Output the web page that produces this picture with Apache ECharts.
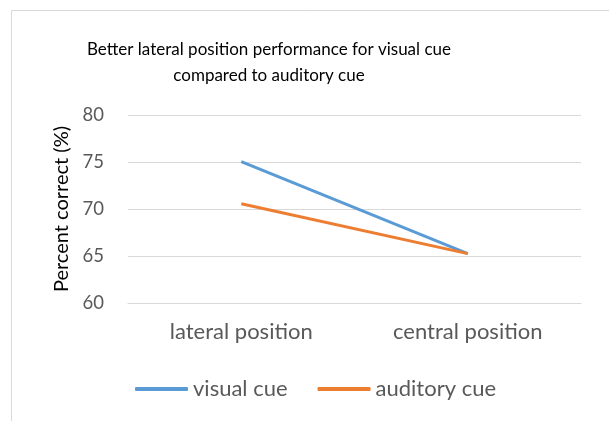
<!DOCTYPE html>
<html><head><meta charset="utf-8">
<script src="https://cdn.jsdelivr.net/npm/echarts@6/dist/echarts.min.js"></script>
<style>html,body{margin:0;padding:0;background:#fff}#c{width:609px;height:421px}</style>
</head><body><div id="c"></div>
<script>
var categories = ['lateral position', 'central position'];
var visualCue = [75.05, 65.25];
var auditoryCue = [70.55, 65.25];
var yTicks = {min: 60, max: 80, interval: 5};
var titleLines = ['Better lateral position performance for visual cue', 'compared to auditory cue'];
var FONT = 'Lato';
var chart = echarts.init(document.getElementById('c'));
chart.setOption({
  animation: false,
  graphic: [
    {type: 'rect', shape: {x: 11.5, y: 10.5, width: 700, height: 500}, style: {fill: 'none', stroke: '#D9D9D9', lineWidth: 1}, silent: true},
    {type: 'text', x: 269, y: 37, style: {text: titleLines.join('\n'), fontFamily: FONT, fontSize: 17, fill: '#000', align: 'center', lineHeight: 26}}
  ],
  grid: {left: 128, right: 28, top: 115, bottom: 118},
  legend: {
    bottom: 21, left: 135, padding: 0, itemWidth: 53, itemHeight: 4, itemGap: 30, icon: 'roundRect',
    textStyle: {fontFamily: FONT, fontSize: 22, color: '#595959'},
    data: ['visual cue', 'auditory cue']
  },
  xAxis: {
    type: 'category', data: categories, boundaryGap: true,
    axisLine: {show: true, lineStyle: {color: '#D9D9D9'}},
    axisTick: {show: false},
    axisLabel: {fontFamily: FONT, fontSize: 22, color: '#595959', margin: 18}
  },
  yAxis: {
    type: 'value', min: yTicks.min, max: yTicks.max, interval: yTicks.interval,
    name: 'Percent correct (%)', nameLocation: 'middle', nameRotate: 90, nameGap: 55,
    nameTextStyle: {fontFamily: FONT, fontSize: 20, color: '#000'},
    axisLine: {show: false}, axisTick: {show: false},
    splitLine: {lineStyle: {color: '#D9D9D9', width: 1}},
    axisLabel: {fontFamily: FONT, fontSize: 18.5, color: '#595959', margin: 24}
  },
  series: [
    {name: 'visual cue', type: 'line', data: visualCue, symbol: 'none', lineStyle: {color: '#5B9BD5', width: 3}, itemStyle: {color: '#5B9BD5'}},
    {name: 'auditory cue', type: 'line', data: auditoryCue, symbol: 'none', lineStyle: {color: '#ED7D31', width: 3}, itemStyle: {color: '#ED7D31'}}
  ]
});
</script></body></html>
